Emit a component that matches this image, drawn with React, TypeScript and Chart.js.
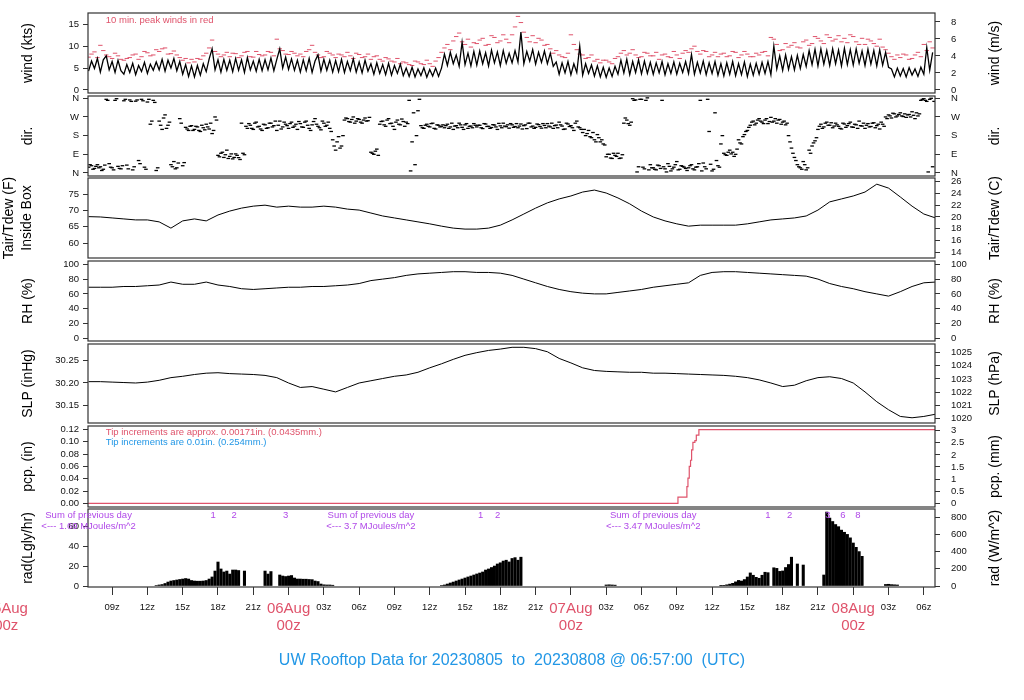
import React, { useEffect, useRef } from 'react';
import { Chart, registerables } from 'chart.js';

Chart.register(...registerables);

const FONT = '"Liberation Sans", Arial, Helvetica, sans-serif';
Chart.defaults.font.family = FONT;

const RED = '#DF536B';
const BLUE = '#2297E6';
const PURPLE = '#B048E8';

// ---------------- time axis: hours since 2023-08-05 00:00 UTC ----------------
const T_START = 6.95;
const T_END = 78.95;
const X_TICK_HOURS = [9, 12, 15, 18, 21, 24, 27, 30, 33, 36, 39, 42, 45, 48, 51, 54, 57, 60, 63, 66, 69, 72, 75, 78];
const DAY_HOURS = [0, 24, 48, 72];
const DAY_LABELS = ['05Aug', '06Aug', '07Aug', '08Aug'];

// ---------------- wind (kts), 15-min samples from 07z 05Aug ----------------
const WIND_START = 7;
const WIND_STEP = 0.25;
const WIND_KT = [
  4.3, 6.6, 4.9, 7.2, 4.1, 6.9, 7.8, 4.6, 6.5, 4.0, 6.8, 4.4,
  3.6, 5.8, 4.0, 6.1, 3.5, 5.6, 4.2, 6.3, 3.8, 5.9, 4.5, 6.4,
  4.6, 7.0, 4.3, 6.8, 5.0, 7.2, 4.4, 6.5, 3.6, 5.8, 3.1, 5.5,
  3.0, 5.6, 3.4, 6.0, 4.2, 7.1, 9.4, 4.6, 6.9, 4.1, 7.0, 4.5,
  6.8, 4.2, 7.2, 4.5, 6.9, 4.0, 7.4, 4.6, 6.6, 4.3, 7.0, 4.4,
  6.9, 4.6, 7.3, 4.4, 7.0, 9.4, 5.0, 7.5, 4.7, 7.1, 4.5, 6.8,
  4.1, 6.9, 4.4, 7.2, 4.0, 6.6, 8.0, 4.3, 7.0, 4.5, 6.8, 4.1,
  6.7, 4.2, 7.0, 4.0, 6.5, 4.4, 7.1, 4.1, 6.4, 3.9, 6.8, 4.3,
  6.0, 3.6, 6.2, 3.8, 5.8, 3.5, 6.1, 3.4, 5.6, 3.8, 5.9, 3.3,
  5.0, 3.1, 5.2, 3.0, 4.8, 3.3, 5.1, 2.9, 4.7, 3.2, 5.0, 3.1,
  5.0, 8.2, 5.6, 8.6, 6.0, 8.0, 5.4, 10.9, 5.8, 8.4, 5.5, 8.8,
  5.7, 8.9, 6.0, 8.5, 5.5, 9.1, 6.2, 8.7, 5.6, 9.0, 6.1, 8.4,
  6.2, 9.0, 6.4, 13.2, 6.0, 8.8, 6.6, 9.2, 5.9, 8.6, 6.3, 8.9,
  6.0, 8.4, 5.4, 6.4, 3.6, 6.2, 3.9, 6.5, 3.5, 6.0, 4.0, 10.0,
  3.4, 6.0, 3.8, 5.7, 3.2, 5.5, 3.0, 5.2, 2.9, 5.0, 3.1, 5.4,
  3.6, 6.8, 3.9, 7.0, 3.5, 6.5, 4.0, 6.9, 3.7, 6.6, 3.8, 6.3,
  3.6, 6.2, 3.9, 6.5, 3.5, 6.0, 3.8, 6.4, 3.6, 6.1, 4.0, 6.5,
  3.8, 8.1, 3.6, 6.3, 3.9, 6.6, 3.5, 6.2, 3.8, 6.5, 3.4, 6.0,
  3.2, 6.2, 3.6, 6.5, 3.3, 6.0, 3.5, 6.4, 3.1, 5.9, 3.4, 6.1,
  3.6, 6.3, 3.8, 6.5, 3.5, 10.0, 4.8, 7.8, 4.5, 8.0, 4.7, 7.6,
  4.6, 7.9, 4.9, 8.1, 5.4, 9.0, 5.8, 9.3, 5.5, 9.4, 5.9, 9.0,
  5.6, 9.4, 6.0, 9.1, 5.5, 9.5, 5.8, 9.2, 5.7, 9.4, 6.1, 8.9,
  5.6, 9.3, 5.9, 9.0, 5.5, 9.2, 5.7, 8.6, 5.2, 4.8, 3.0, 5.0,
  3.2, 4.9, 3.0, 5.1, 3.4, 4.8, 3.1, 5.2, 3.6, 9.7, 4.5, 8.6,
];

// 10-min peak winds (kts), two interleaved 30-min sample sets
const PEAK_START = 7;
const PEAK_B_START = 7.25;
const PEAK_STEP = 0.5;
const PEAK_KT = [
  7.5, 8.7, 10.2, 8.0, 7.2, 7.8,
  6.8, 7.4, 8.2, 7.6, 8.5, 8.0,
  8.8, 9.6, 8.3, 8.0, 6.8, 6.2,
  6.4, 7.0, 8.4, 11.4, 8.2, 8.0,
  7.6, 8.3, 7.8, 8.8, 7.5, 8.1,
  8.0, 8.6, 11.6, 9.0, 8.1, 8.4,
  8.2, 8.8, 10.2, 8.0, 7.6, 8.4,
  7.4, 8.0, 8.6, 7.2, 8.1, 7.6,
  7.0, 7.8, 6.6, 7.1, 6.4, 6.0,
  6.2, 5.6, 6.4, 5.8, 6.0, 6.6,
  8.6, 10.4, 11.2, 13.0, 10.4, 9.8,
  10.6, 11.8, 10.4, 12.0, 11.2, 11.6,
  12.6, 16.8, 13.2, 11.0, 10.8, 11.4,
  10.4, 8.4, 8.0, 7.4, 12.6, 9.2,
  8.0, 7.4, 6.6, 6.2, 6.8, 6.0,
  7.6, 9.0, 8.4, 8.0, 7.6, 8.4,
  7.8, 7.0, 8.2, 7.4, 8.0, 8.4,
  8.6, 10.0, 8.2, 8.8, 8.0, 7.6,
  8.4, 7.8, 8.6, 8.0, 8.2, 7.6,
  8.0, 8.8, 12.0, 10.4, 9.2, 9.8,
  10.8, 9.6, 11.4, 10.6, 11.8, 10.6,
  12.0, 11.6, 11.0, 10.8, 12.2, 10.4,
  10.4, 11.2, 10.0, 9.8, 8.4, 7.0,
  7.4, 8.0, 7.2, 8.6, 10.4, 11.0,
];
const PEAK_KT_B = [
  8.2, 7.4, 9.0, 7.6, 8.4, 7.0,
  7.2, 8.0, 7.0, 8.8, 7.8, 9.2,
  9.4, 8.2, 8.9, 7.4, 7.2, 7.0,
  7.2, 7.8, 9.6, 8.8, 7.6, 8.6,
  8.4, 7.4, 8.6, 7.6, 8.8, 7.8,
  8.8, 7.8, 9.4, 8.2, 8.8, 7.8,
  7.6, 9.2, 8.6, 7.4, 8.8, 8.0,
  8.2, 7.6, 7.8, 8.4, 7.4, 8.2,
  7.6, 7.0, 7.4, 6.6, 7.2, 6.4,
  5.8, 6.6, 6.0, 6.8, 5.4, 7.4,
  9.6, 9.2, 12.2, 11.0, 11.6, 10.8,
  11.4, 10.2, 12.4, 10.8, 12.6, 10.8,
  14.4, 15.4, 12.0, 12.4, 11.8, 10.2,
  9.4, 9.0, 7.6, 8.4, 10.4, 8.2,
  7.2, 8.0, 7.0, 6.8, 6.4, 7.2,
  8.4, 8.0, 9.2, 7.4, 8.6, 7.8,
  8.6, 8.0, 7.6, 8.8, 7.2, 9.0,
  9.4, 8.8, 9.0, 7.6, 8.6, 8.2,
  7.6, 8.8, 7.4, 8.8, 7.6, 8.4,
  8.6, 7.8, 11.6, 9.0, 10.6, 10.2,
  9.8, 11.0, 10.2, 12.2, 11.2, 12.6,
  11.2, 12.4, 11.8, 12.6, 11.0, 11.8,
  11.6, 10.6, 11.6, 9.2, 7.6, 8.0,
  8.2, 7.0, 8.0, 7.6, 9.0, 9.6,
];

// ---------------- wind direction (deg), two interleaved 15-min sample sets ----------------
const DIR_START = 7;
const DIR_B_START = 7.125;
const DIR_STEP = 0.25;
const DIR_DEG = [
  28, 35, 22, 40, 30, 18, 355, 45, 25, 350, 32, 20,
  348, 38, 352, 15, 346, 60, 355, 28, 342, 235, 350, 12,
  250, 210, 280, 230, 40, 55, 25, 262, 35, 220, 205, 228,
  210, 222, 200, 218, 235, 212, 190, 270, 85, 95, 75, 110,
  80, 68, 92, 74, 240, 88, 215, 230, 210, 245, 225, 205,
  232, 218, 240, 228, 205, 250, 222, 235, 215, 245, 226, 210,
  238, 220, 250, 215, 232, 262, 225, 208, 240, 230, 215, 160,
  110, 175, 130, 255, 262, 245, 270, 250, 258, 240, 265, 252,
  100, 90, 115, 235, 250, 225, 262, 240, 210, 255, 232, 248,
  245, 350, 150, 40, 300, 228, 215, 235, 222, 240, 212, 230,
  225, 218, 235, 222, 210, 228, 240, 220, 232, 215, 226, 238,
  222, 230, 214, 236, 225, 219, 231, 210, 227, 240, 223, 216,
  232, 224, 218, 236, 228, 214, 240, 226, 220, 233, 216, 229,
  238, 222, 215, 231, 245, 226, 212, 236, 228, 205, 250, 218,
  195, 180, 205, 170, 160, 185, 150, 140, 78, 90, 70, 85,
  95, 72, 240, 255, 230, 358, 352, 30, 355, 20, 362, 40,
  25, 15, 35, 350, 20, 45, 10, 28, 55, 18, 32, 22,
  25, 40, 15, 30, 350, 48, 20, 200, 10, 290, 35, 140,
  95, 85, 110, 100, 90, 160, 140, 185, 205, 230, 250, 240,
  262, 245, 255, 238, 268, 250, 240, 258, 245, 232, 180, 120,
  75, 40, 25, 55, 15, 110, 130, 155, 210, 235, 222, 245,
  230, 218, 240, 225, 212, 236, 228, 245, 220, 232, 250, 226,
  215, 238, 224, 242, 228, 212, 235, 270, 280, 265, 285, 275,
  290, 272, 268, 282, 295, 262, 275, 350, 358, 345, 355, 30,
];
const DIR_DEG_B = [
  40, 18, 32, 25, 12, 38, 350, 28, 15, 358, 22, 35,
  355, 20, 345, 30, 352, 45, 348, 18, 355, 250, 340, 25,
  230, 265, 215, 245, 30, 20, 48, 240, 50, 212, 225, 205,
  225, 205, 230, 208, 222, 240, 205, 255, 78, 100, 88, 70,
  92, 75, 85, 65, 95, 225, 238, 215, 240, 222, 212, 235,
  215, 240, 222, 250, 230, 212, 245, 228, 238, 220, 235, 248,
  222, 245, 230, 205, 248, 235, 218, 250, 225, 245, 200, 130,
  150, 120, 180, 265, 248, 258, 240, 262, 245, 255, 250, 268,
  95, 105, 85, 248, 232, 255, 238, 225, 245, 235, 260, 225,
  238, 10, 290, 180, 355, 218, 230, 225, 238, 215, 232, 222,
  232, 228, 215, 240, 226, 218, 232, 210, 238, 225, 218, 230,
  230, 218, 238, 224, 215, 233, 222, 239, 218, 226, 232, 238,
  220, 238, 226, 212, 232, 240, 222, 215, 236, 224, 238, 218,
  226, 240, 228, 218, 232, 210, 240, 224, 218, 240, 222, 210,
  210, 190, 175, 195, 150, 170, 160, 135, 90, 72, 95, 80,
  70, 88, 265, 238, 245, 350, 5, 355, 28, 350, 15, 25,
  18, 38, 22, 30, 5, 32, 20, 40, 15, 35, 28, 12,
  35, 20, 28, 45, 10, 30, 355, 42, 18, 60, 28, 180,
  88, 100, 92, 80, 115, 145, 175, 200, 220, 245, 232, 255,
  250, 238, 262, 248, 245, 262, 255, 235, 250, 240, 150, 95,
  60, 30, 18, 40, 25, 95, 145, 170, 225, 215, 240, 230,
  242, 226, 232, 215, 240, 220, 238, 222, 235, 215, 228, 240,
  230, 222, 240, 218, 235, 245, 225, 262, 275, 288, 270, 282,
  275, 285, 280, 270, 278, 290, 285, 355, 350, 5, 360, 345,
];

// ---------------- hourly series from 07z 05Aug ----------------
const HOURLY_START = 7;
const TAIR_F = [
  68.1, 68.0, 67.7, 67.4, 67.1, 67.1, 66.5, 64.6, 66.8, 67.4,
  66.8, 68.6, 69.8, 70.7, 71.3, 71.6, 71.0, 71.3, 71.0, 71.0,
  71.3, 71.0, 70.4, 70.1, 69.2, 68.3, 67.7, 67.1, 66.5, 65.9,
  65.2, 64.6, 64.3, 64.3, 64.6, 65.5, 67.1, 68.9, 70.7, 72.3,
  73.5, 74.4, 75.6, 76.2, 75.3, 73.8, 72.0, 69.8, 68.0, 66.8,
  65.9, 65.2, 65.5, 65.5, 65.5, 65.5, 65.9, 66.5, 67.1, 67.4,
  67.7, 68.3, 70.1, 72.6, 73.5, 74.4, 75.6, 78.0, 76.8, 74.1,
  71.3, 68.9, 67.7,
];
const RH_PCT = [
  69, 69, 69, 70, 70, 71, 72, 76, 73, 73,
  76, 72, 70, 67, 66, 67, 68, 69, 69, 70,
  70, 71, 72, 74, 78, 80, 82, 85, 87, 88,
  89, 90, 90, 89, 89, 88, 85, 80, 75, 70,
  66, 63, 61, 60, 60, 62, 64, 66, 69, 71,
  73, 75, 85, 89, 90, 90, 89, 88, 87, 86,
  85, 84, 80, 74, 70, 67, 63, 60, 57, 63,
  70, 75, 76,
];
const SLP_INHG = [
  30.203, 30.203, 30.202, 30.201, 30.200, 30.202, 30.206, 30.212, 30.215, 30.219,
  30.222, 30.223, 30.221, 30.220, 30.219, 30.217, 30.212, 30.200, 30.190, 30.192,
  30.186, 30.180, 30.190, 30.200, 30.205, 30.210, 30.215, 30.218, 30.224, 30.234,
  30.243, 30.253, 30.262, 30.268, 30.273, 30.276, 30.280, 30.280, 30.277, 30.270,
  30.255, 30.245, 30.234, 30.228, 30.226, 30.225, 30.224, 30.224, 30.222, 30.222,
  30.221, 30.220, 30.219, 30.218, 30.217, 30.215, 30.212, 30.207, 30.200, 30.192,
  30.195, 30.205, 30.212, 30.214, 30.210, 30.200, 30.180, 30.158, 30.140, 30.125,
  30.122, 30.125, 30.130,
];

// ---------------- precipitation (accumulated, inches) ----------------
const PCP_HOURS = [6.95, 57.10, 57.86, 57.95, 58.06, 58.17, 58.26, 58.37, 58.54, 58.66, 58.88, 78.95];
const PCP_IN = [0, 0.010, 0.027, 0.041, 0.060, 0.070, 0.087, 0.099, 0.102, 0.111, 0.120, 0.120];

// ---------------- solar radiation (W/m^2), 15-min samples ----------------
const RAD_STEP = 0.25;
const RAD_D1_START = 12.75;
const RAD_D1 = [
  6, 12, 17, 29, 46, 58, 64, 70, 76, 81, 87, 81, 64, 58, 56, 56, 58, 64, 81, 105,
  174, 279, 198, 163, 174, 139, 186, 186, 180, null, 174, null, null, null, null, null,
  null, 174, 139, 168, null, null, 128, 116, 110, 116, 122, 93, 81, 81, 79, 79, 76, 74,
  58, 52, 23, 14, 12, 12, 9,
];
const RAD_D2_START = 37.0;
const RAD_D2 = [
  6, 12, 23, 35, 46, 58, 70, 81, 93, 105, 116, 128, 140, 151, 163, 186, 198, 215, 232, 256,
  270, 290, 300, 280, 320, 330, 300, 335,
];
const RAD_B1_START = 51.0;
const RAD_B1 = [12, 14, 12, 10];
const RAD_D3_START = 60.75;
const RAD_D3 = [
  3, 8, 14, 22, 31, 48, 65, 58, 75, 105, 152, 125, 101, 90, 125, 160, 155, null, 212, 205,
  170, 175, 215, 250, 335, null, 256, null, 244, null, null, null, null, null, null, 128,
  860, 790, 750, 715, 690, 650, 625, 600, 560, 500, 450, 400, 345,
];
const RAD_B2_START = 74.75;
const RAD_B2 = [18, 20, 16, 14, 12];

// annotations of the radiation panel
const RAD_MARK_HOURS = [17.58, 19.37, 23.76, 40.33, 41.78, 64.74, 66.59, 69.84, 71.12, 72.39];
const RAD_MARK_LABELS = ['1', '2', '3', '1', '2', '1', '2', '3', '6', '8'];
const SUM_HOURS = [7.0, 31.0, 55.0];
const SUM_TEXT = ['<--- 1.69 MJoules/m^2', '<--- 3.7 MJoules/m^2', '<--- 3.47 MJoules/m^2'];

// ---------------- tick values ----------------
const WIND_KT_TICKS = [0, 5, 10, 15];
const WIND_MS_TICKS = [0, 2, 4, 6, 8];
const DIR_TICKS = [0, 90, 180, 270, 360];
const DIR_LABELS = ['N', 'E', 'S', 'W', 'N'];
const TAIR_F_TICKS = [60, 65, 70, 75];
const TAIR_C_TICKS = [14, 16, 18, 20, 22, 24, 26];
const RH_TICKS = [0, 20, 40, 60, 80, 100];
const SLP_IN_TICKS = [30.15, 30.2, 30.25];
const SLP_HPA_TICKS = [1020, 1021, 1022, 1023, 1024, 1025];
const PCP_IN_TICKS = [0, 0.02, 0.04, 0.06, 0.08, 0.1, 0.12];
const PCP_MM_TICKS = [0, 0.5, 1, 1.5, 2, 2.5, 3];
const RAD_LY_TICKS = [0, 20, 40, 60];
const RAD_W_TICKS = [0, 200, 400, 600, 800];

// ---------------- helpers ----------------
const series = (start: number, step: number, vals: (number | null)[]) =>
  vals.map((v, i) => ({ x: start + i * step, y: v }));
const KT_TO_MS = 0.514444;
const F_TO_C = (f: number) => (f - 32) / 1.8;
const INHG_TO_HPA = 33.8639;
const IN_TO_MM = 25.4;
const LY_TO_W = 11.622;

const PAD = 10;
const LEFT_W = 88;
const RIGHT_W = 89;
const CANVAS_BOTTOM = 645;
const RIGHT_TITLE_X = 995;
const TICK_FONT = 9.5;

type AxisSpec = { min: number; max: number; ticks: number[]; fmt: (v: number) => string };
type Note = { text: string; x: number; y: number; axis: string; color: string; align?: CanvasTextAlign; size?: number };
type Spec = {
  top: number;
  bottom: number;
  xAxis?: boolean;
  left: AxisSpec;
  right: AxisSpec;
  datasets: any[];
  leftTitles: { text: string; x: number }[];
  rightTitle: string;
  notes?: Note[];
};

const hourLabel = (v: number) => {
  const h = Math.round(v) % 24;
  if (h === 0) return '';
  return (h < 10 ? '0' : '') + h + 'z';
};

const zeroPad = (s: any) => {
  s.paddingTop = 0;
  s.paddingBottom = 0;
  s.paddingLeft = 0;
  s.paddingRight = 0;
};

const decor = (spec: Spec) => ({
  id: 'decor',
  afterDraw(chart: any) {
    const { ctx, chartArea: a, scales } = chart;
    ctx.save();
    ctx.strokeStyle = '#333';
    ctx.lineWidth = 1.2;
    ctx.strokeRect(a.left, a.top, a.right - a.left, a.bottom - a.top);
    ctx.fillStyle = '#000';
    ctx.font = `14px ${FONT}`;
    ctx.textAlign = 'center';
    ctx.textBaseline = 'middle';
    const cy = (a.top + a.bottom) / 2;
    const vtext = (t: string, x: number) => {
      ctx.save();
      ctx.translate(x, cy);
      ctx.rotate(-Math.PI / 2);
      ctx.fillText(t, 0, 0);
      ctx.restore();
    };
    spec.leftTitles.forEach((t) => vtext(t.text, t.x));
    vtext(spec.rightTitle, RIGHT_TITLE_X);
    (spec.notes || []).forEach((n) => {
      ctx.fillStyle = n.color;
      ctx.font = `${n.size || TICK_FONT}px ${FONT}`;
      ctx.textAlign = n.align || 'center';
      ctx.textBaseline = 'middle';
      ctx.fillText(n.text, scales.x.getPixelForValue(n.x), scales[n.axis].getPixelForValue(n.y));
    });
    if (spec.xAxis) {
      ctx.fillStyle = RED;
      ctx.font = `15px ${FONT}`;
      ctx.textAlign = 'center';
      ctx.textBaseline = 'middle';
      DAY_HOURS.forEach((h, i) => {
        const x = scales.x.getPixelForValue(h);
        ctx.fillText(DAY_LABELS[i], x, a.bottom + 22);
        ctx.fillText('00z', x, a.bottom + 39);
      });
    }
    ctx.restore();
  },
});

function buildConfig(spec: Spec): any {
  const yAxis = (pos: 'left' | 'right', ax: AxisSpec) => ({
    type: 'linear',
    position: pos,
    min: ax.min,
    max: ax.max,
    afterBuildTicks: (s: any) => {
      s.ticks = ax.ticks.map((v) => ({ value: v }));
    },
    afterFit: (s: any) => {
      s.width = pos === 'left' ? LEFT_W : RIGHT_W;
      zeroPad(s);
    },
    grid: { display: true, drawOnChartArea: false, drawTicks: true, tickLength: 5, tickColor: '#333', tickWidth: 1 },
    border: { display: false },
    ticks: {
      autoSkip: false,
      maxRotation: 0,
      padding: pos === 'left' ? 4 : 11,
      color: '#111',
      font: { size: TICK_FONT, family: FONT },
      callback: (v: number) => ax.fmt(v),
    },
  });
  return {
    type: 'line',
    data: { datasets: spec.datasets },
    options: {
      responsive: false,
      maintainAspectRatio: false,
      animation: false,
      events: [],
      layout: { padding: { top: PAD, bottom: spec.xAxis ? 0 : PAD, left: 0, right: 0 } },
      plugins: { legend: { display: false }, tooltip: { enabled: false }, title: { display: false } },
      scales: {
        x: {
          type: 'linear',
          min: T_START,
          max: T_END,
          offset: false,
          display: !!spec.xAxis,
          afterBuildTicks: (s: any) => {
            s.ticks = X_TICK_HOURS.map((v) => ({ value: v }));
          },
          afterFit: (s: any) => {
            if (spec.xAxis) s.height = CANVAS_BOTTOM - spec.bottom;
            zeroPad(s);
          },
          grid: { display: true, offset: false, drawOnChartArea: false, drawTicks: true, tickLength: 8, tickColor: '#333' },
          border: { display: false },
          ticks: {
            autoSkip: false,
            maxRotation: 0,
            minRotation: 0,
            padding: 7,
            color: '#111',
            font: { size: TICK_FONT, family: FONT },
            callback: (v: number) => hourLabel(v),
          },
        },
        y: yAxis('left', spec.left),
        yR: yAxis('right', spec.right),
      },
    },
    plugins: [decor(spec)],
  };
}

const lineDs = (data: any[], color = '#000', width = 1) => ({
  type: 'line',
  data,
  borderColor: color,
  borderWidth: width,
  pointRadius: 0,
  tension: 0,
  yAxisID: 'y',
});

const dashDs = (data: any[], color: string, radius: number, width: number) => ({
  type: 'line',
  data,
  showLine: false,
  pointStyle: 'line',
  pointRadius: radius,
  pointBorderWidth: width,
  borderColor: color,
  pointBorderColor: color,
  yAxisID: 'y',
});

const num = (v: number) => String(v);

const windMin = -0.685, windMax = 17.58;
const tMin = 55.49, tMax = 79.88;
const slpMin = 30.1103, slpMax = 30.2874;
const pcpMin = -0.00602, pcpMax = 0.12575;
const radMinW = -11.6, radMaxW = 895.5;

const radData = [
  ...series(RAD_D1_START, RAD_STEP, RAD_D1),
  ...series(RAD_D2_START, RAD_STEP, RAD_D2),
  ...series(RAD_B1_START, RAD_STEP, RAD_B1),
  ...series(RAD_D3_START, RAD_STEP, RAD_D3),
  ...series(RAD_B2_START, RAD_STEP, RAD_B2),
].filter((p) => p.y !== null);

const dirFmt = (v: number) => DIR_LABELS[DIR_TICKS.indexOf(v)];

const PANELS: Spec[] = [
  {
    top: 13, bottom: 93,
    left: { min: windMin, max: windMax, ticks: WIND_KT_TICKS, fmt: num },
    right: { min: windMin * KT_TO_MS, max: windMax * KT_TO_MS, ticks: WIND_MS_TICKS, fmt: num },
    datasets: [
      lineDs(series(WIND_START, WIND_STEP, WIND_KT), '#000', 1.3),
      dashDs(series(PEAK_START, PEAK_STEP, PEAK_KT), RED, 2.2, 1),
      dashDs(series(PEAK_B_START, PEAK_STEP, PEAK_KT_B), RED, 2.2, 1),
    ],
    leftTitles: [{ text: 'wind (kts)', x: 28 }],
    rightTitle: 'wind (m/s)',
    notes: [{ text: '10 min. peak winds in red', x: 8.46, y: 16, axis: 'y', color: RED, align: 'left' }],
  },
  {
    top: 96, bottom: 176,
    left: { min: -14.5, max: 371, ticks: DIR_TICKS, fmt: dirFmt },
    right: { min: -14.5, max: 371, ticks: DIR_TICKS, fmt: dirFmt },
    datasets: [
      dashDs(series(DIR_START, DIR_STEP, DIR_DEG), '#000', 1.8, 1.3),
      dashDs(series(DIR_B_START, DIR_STEP, DIR_DEG_B), '#000', 1.8, 1.3),
    ],
    leftTitles: [{ text: 'dir.', x: 28 }],
    rightTitle: 'dir.',
  },
  {
    top: 178, bottom: 258,
    left: { min: tMin, max: tMax, ticks: TAIR_F_TICKS, fmt: num },
    right: { min: F_TO_C(tMin), max: F_TO_C(tMax), ticks: TAIR_C_TICKS, fmt: num },
    datasets: [lineDs(series(HOURLY_START, 1, TAIR_F))],
    leftTitles: [{ text: 'Tair/Tdew (F)', x: 9 }, { text: 'Inside Box', x: 27 }],
    rightTitle: 'Tair/Tdew (C)',
  },
  {
    top: 261, bottom: 341,
    left: { min: -3.65, max: 104.46, ticks: RH_TICKS, fmt: num },
    right: { min: -3.65, max: 104.46, ticks: RH_TICKS, fmt: num },
    datasets: [lineDs(series(HOURLY_START, 1, RH_PCT))],
    leftTitles: [{ text: 'RH (%)', x: 28 }],
    rightTitle: 'RH (%)',
  },
  {
    top: 344, bottom: 423,
    left: { min: slpMin, max: slpMax, ticks: SLP_IN_TICKS, fmt: (v) => v.toFixed(2) },
    right: { min: slpMin * INHG_TO_HPA, max: slpMax * INHG_TO_HPA, ticks: SLP_HPA_TICKS, fmt: num },
    datasets: [lineDs(series(HOURLY_START, 1, SLP_INHG))],
    leftTitles: [{ text: 'SLP (inHg)', x: 28 }],
    rightTitle: 'SLP (hPa)',
  },
  {
    top: 426, bottom: 507,
    left: { min: pcpMin, max: pcpMax, ticks: PCP_IN_TICKS, fmt: (v) => v.toFixed(2) },
    right: { min: pcpMin * IN_TO_MM, max: pcpMax * IN_TO_MM, ticks: PCP_MM_TICKS, fmt: num },
    datasets: [
      { ...lineDs(PCP_HOURS.map((h, i) => ({ x: h, y: PCP_IN[i] })), RED, 1.2), stepped: true },
    ],
    leftTitles: [{ text: 'pcp. (in)', x: 28 }],
    rightTitle: 'pcp. (mm)',
    notes: [
      { text: 'Tip increments are approx. 0.00171in. (0.0435mm.)', x: 8.46, y: 0.115, axis: 'y', color: RED, align: 'left' },
      { text: 'Tip increments are 0.01in. (0.254mm.)', x: 8.46, y: 0.0985, axis: 'y', color: BLUE, align: 'left' },
    ],
  },
  {
    top: 509, bottom: 587, xAxis: true,
    left: { min: radMinW / LY_TO_W, max: radMaxW / LY_TO_W, ticks: RAD_LY_TICKS, fmt: num },
    right: { min: radMinW, max: radMaxW, ticks: RAD_W_TICKS, fmt: num },
    datasets: [
      { type: 'bar', data: radData, backgroundColor: '#000', borderWidth: 0, barThickness: 2.4, yAxisID: 'yR' },
    ],
    leftTitles: [{ text: 'rad(Lgly/hr)', x: 28 }],
    rightTitle: 'rad (W/m^2)',
    notes: [
      ...SUM_HOURS.map((h) => ({ text: 'Sum of previous day', x: h, y: 826, axis: 'yR', color: PURPLE })),
      ...SUM_HOURS.map((h, i) => ({ text: SUM_TEXT[i], x: h, y: 698, axis: 'yR', color: PURPLE })),
      ...RAD_MARK_HOURS.map((h, i) => ({ text: RAD_MARK_LABELS[i], x: h, y: 826, axis: 'yR', color: PURPLE })),
    ],
  },
];

function Panel({ spec }: { spec: Spec }) {
  const ref = useRef<HTMLCanvasElement>(null);
  useEffect(() => {
    const chart = new Chart(ref.current as HTMLCanvasElement, buildConfig(spec));
    return () => chart.destroy();
  }, [spec]);
  const top = spec.top - PAD;
  const height = spec.xAxis ? CANVAS_BOTTOM - top : spec.bottom - spec.top + 2 * PAD;
  return (
    <canvas
      ref={ref}
      width={1024}
      height={height}
      style={{ position: 'absolute', left: 0, top, width: 1024, height }}
    />
  );
}

export default function App() {
  return (
    <div style={{ position: 'absolute', left: 0, top: 0, width: 1024, height: 700, background: '#fff', overflow: 'hidden' }}>
      {PANELS.map((p, i) => (
        <Panel key={i} spec={p} />
      ))}
      <div
        style={{
          position: 'absolute', left: 0, top: 650, width: 1024, textAlign: 'center',
          color: BLUE, fontSize: 16, fontFamily: FONT, whiteSpace: 'pre', lineHeight: '20px',
        }}
      >
        UW Rooftop Data for 20230805  to  20230808 @ 06:57:00  (UTC)
      </div>
    </div>
  );
}
